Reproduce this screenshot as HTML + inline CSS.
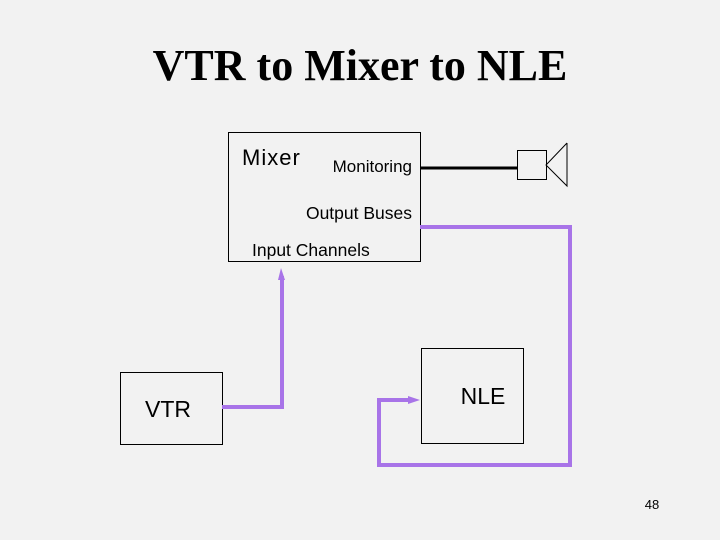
<!DOCTYPE html><html><head><style>body{margin:0;background:#f2f2f2}</style></head><body>
<svg width="720" height="540" xmlns="http://www.w3.org/2000/svg" style="display:block">
<rect width="720" height="540" fill="#f2f2f2"/>
<text x="360" y="80" text-anchor="middle" font-family="Liberation Serif" font-weight="bold" font-size="44">VTR to Mixer to NLE</text>
<rect x="228.5" y="132.5" width="192" height="129" fill="none" stroke="#000"/>
<text x="242" y="165" font-family="Liberation Sans" font-size="22" letter-spacing="1">Mixer</text>
<text x="412" y="172" text-anchor="end" font-family="Liberation Sans" font-size="17">Monitoring</text>
<text x="412" y="219" text-anchor="end" font-family="Liberation Sans" font-size="17.5">Output Buses</text>
<text x="252" y="256" font-family="Liberation Sans" font-size="17.5">Input Channels</text>
<line x1="420" y1="168" x2="517" y2="168" stroke="#000" stroke-width="3"/>
<rect x="517.5" y="150.5" width="29" height="29" fill="none" stroke="#000"/>
<polyline points="567,143 546,165 567,186 567,143" fill="none" stroke="#000"/>
<rect x="120.5" y="372.5" width="102" height="72" fill="none" stroke="#000"/>
<text x="168" y="417" text-anchor="middle" font-family="Liberation Sans" font-size="23">VTR</text>
<rect x="421.5" y="348.5" width="102" height="95" fill="none" stroke="#000"/>
<text x="483" y="404" text-anchor="middle" font-family="Liberation Sans" font-size="23">NLE</text>
<g fill="none" stroke="#a874e8" stroke-width="4">
<polyline points="222,407 282,407 282,276"/>
<polyline points="420,227 570,227 570,465 379,465 379,400 410,400"/>
</g>
<polygon points="278,280 281,268 285,280" fill="#a874e8"/>
<polygon points="408,396 420,400 408,404" fill="#a874e8"/>
<text x="652" y="509" text-anchor="middle" font-family="Liberation Sans" font-size="13">48</text>
</svg></body></html>
